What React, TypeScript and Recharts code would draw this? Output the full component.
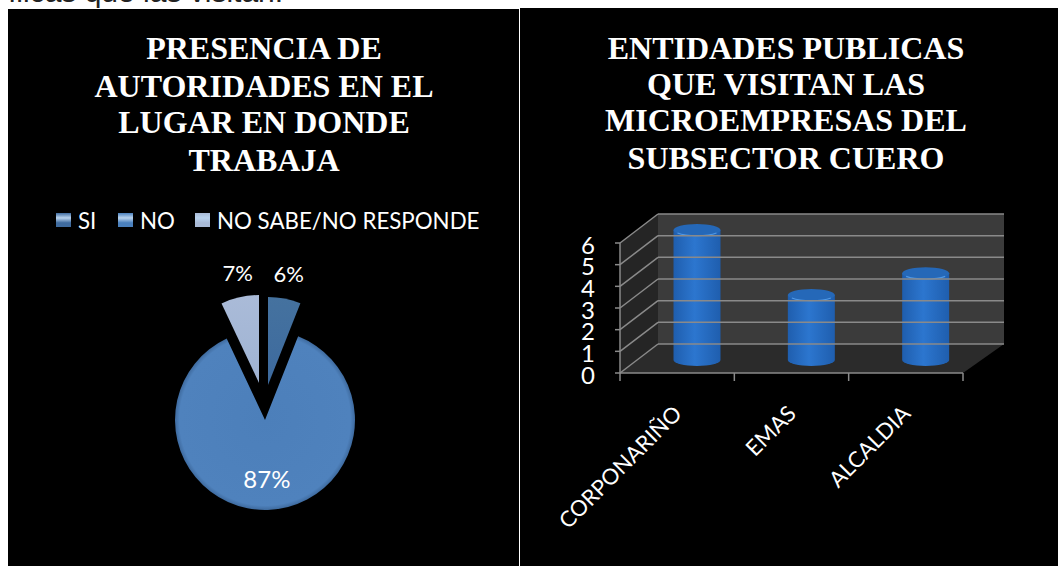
import React from "react";
import {
  PieChart, Pie, Cell, Legend, BarChart, Bar, XAxis, YAxis, ReferenceArea, ReferenceLine,
} from "recharts";

const pieCategories = ["SI", "NO", "NO SABE/NO RESPONDE"];
const pieValues = [6, 87, 7];
const barCategories = ["CORPONARIÑO", "EMAS", "ALCALDIA"];
const barValues = [6, 3, 4];
const yTicks = [0, 1, 2, 3, 4, 5, 6];
const leftTitle = ["PRESENCIA DE", "AUTORIDADES EN EL", "LUGAR EN DONDE", "TRABAJA"];
const rightTitle = ["ENTIDADES PUBLICAS", "QUE VISITAN LAS", "MICROEMPRESAS DEL", "SUBSECTOR CUERO"];
const caption = "ílicas que las visitan.";

const pieData = pieCategories.map((name, i) => ({ name, value: pieValues[i] }));
const barData = barCategories.map((name, i) => ({ name, value: barValues[i] }));

const SANS = "Lato, Carlito, sans-serif";
const SERIF = "'Liberation Serif', serif";
const sliceFills = ["url(#sliceSi)", "url(#sliceNo)", "url(#sliceNs)"];
const legendSwatches = ["#3f6b9f", "#4a80bd", "#a9bad6"];

// placement of each exploded slice, in chart coordinates
const explode = [
  { cx: 260, cy: 376, r: 88, labelR: 111, dx: 0, dy: -2, font: 22 },
  { cx: 257, cy: 411, r: 90, labelR: 59, dx: 0, dy: 0, font: 24 },
  { cx: 251, cy: 374, r: 88, labelR: 111, dx: 3, dy: -2, font: 22 },
];

const DEPTH_X = 38;
const DEPTH_Y = 29;
const RIGHT_EXTRA = 41;
const GRID = "#8a8a8a";

function sliceLabel(index: number) {
  return (p: any) => {
    if (p.index !== index) return null;
    const a = (p.midAngle * Math.PI) / 180;
    const e = explode[index];
    return (
      <text
        x={p.cx + e.labelR * Math.cos(a) + e.dx}
        y={p.cy - e.labelR * Math.sin(a) + e.dy}
        fill="#fff"
        fontFamily={SANS}
        fontSize={e.font}
        textAnchor="middle"
        dominantBaseline="central"
      >
        {`${p.value}%`}
      </text>
    );
  };
}

function PieLegend() {
  const iconX = [48, 110, 187];
  return (
    <div style={{ position: "relative", height: 30, width: 510 }}>
      {pieCategories.map((c, i) => (
        <div key={c} style={{ position: "absolute", left: iconX[i], top: 0, display: "flex", alignItems: "center", height: 30, whiteSpace: "nowrap" }}>
          <span
            style={{
              display: "inline-block", width: 15, height: 14, marginRight: 7,
              background: `linear-gradient(${legendSwatches[i]} 0%, #b9d3ee 35%, ${legendSwatches[i]} 70%)`,
            }}
          />
          <span style={{ color: "#fff", fontFamily: SANS, fontSize: 22.3 }}>{c}</span>
        </div>
      ))}
    </div>
  );
}

function Cylinder(props: any) {
  const { x, y, width, height } = props;
  const dx = 19.5;
  const dy = -13;
  const rx = width / 2;
  const ry = 6;
  const left = x + dx;
  const right = left + width;
  const top = y + dy;
  const bottom = top + height;
  return (
    <g style={{ filter: "blur(0.7px)" }}>
      <path
        d={`M${left},${top} L${left},${bottom} A${rx},${ry} 0 0 0 ${right},${bottom} L${right},${top} Z`}
        fill="url(#cylBody)"
      />
      <ellipse cx={left + rx} cy={top} rx={rx} ry={ry} fill="#2568b8" />
      <path d={`M${left + 4},${top + 3} A${rx},${ry} 0 0 0 ${right - 4},${top + 3}`} stroke="#4f98e6" strokeWidth={1.2} fill="none" />
    </g>
  );
}

function Walls(props: any) {
  const { x, y, width, height } = props;
  const b = y + height;
  const bx = x + DEPTH_X;
  const topBack = y - DEPTH_Y;
  const botBack = b - DEPTH_Y;
  const rightBack = x + width + RIGHT_EXTRA;
  return (
    <g>
      <polygon points={`${x},${y} ${bx},${topBack} ${bx},${botBack} ${x},${b}`} fill="#252525" />
      <rect x={bx} y={topBack} width={rightBack - bx} height={botBack - topBack} fill="#3b3b3b" />
      <polygon points={`${x},${b} ${bx},${botBack} ${rightBack},${botBack} ${x + width},${b}`} fill="#2b2b2b" />
    </g>
  );
}

function GridLine(props: any) {
  const { x1, x2, y1 } = props;
  const bx = x1 + DEPTH_X;
  const by = y1 - DEPTH_Y;
  return (
    <g stroke={GRID} strokeWidth={1.5} fill="none">
      <line x1={x1} y1={y1} x2={bx} y2={by} />
      <line x1={bx} y1={by} x2={x2 + RIGHT_EXTRA} y2={by} />
    </g>
  );
}

function CategoryTick(props: any) {
  const { x, y, payload, index } = props;
  const band = 343 / barCategories.length;
  const top = y - 8;
  return (
    <g>
      <line x1={x - band / 2} x2={x - band / 2} y1={top} y2={top + 8} stroke={GRID} strokeWidth={1.5} />
      {index === barCategories.length - 1 && (
        <line x1={x + band / 2} x2={x + band / 2} y1={top} y2={top + 8} stroke={GRID} strokeWidth={1.5} />
      )}
      <text
        transform={`translate(${x + 6},${top + 42}) rotate(-45)`}
        textAnchor="end"
        fill="#fff"
        fontFamily={SANS}
        fontSize={22}
      >
        {payload.value}
      </text>
    </g>
  );
}

function Title({ lines, left, width, tops }: { lines: string[]; left: number; width: number; tops: number[] }) {
  return (
    <>
      {lines.map((l, i) => (
        <div
          key={l}
          style={{
            position: "absolute", left, width, top: tops[i], textAlign: "center", color: "#fff",
            fontFamily: SERIF, fontWeight: 700, fontSize: 32, lineHeight: "34px", whiteSpace: "nowrap",
          }}
        >
          {l}
        </div>
      ))}
    </>
  );
}

export default function App() {
  return (
    <div style={{ position: "absolute", left: 0, top: 0, width: 1058, height: 566, background: "#fff", overflow: "hidden" }}>
      <div style={{ position: "absolute", left: 8, top: -23, fontFamily: "'Liberation Sans', sans-serif", fontSize: 30, lineHeight: "30px", color: "#222", whiteSpace: "nowrap" }}>
        {caption}
      </div>
      <div style={{ position: "absolute", left: 8, top: 9, width: 511, height: 557, background: "#000" }} />
      <div style={{ position: "absolute", left: 520, top: 8, width: 538, height: 558, background: "#000" }} />

      <div style={{ position: "absolute", left: 8, top: 9 }}>
        <PieChart width={510} height={557} margin={{ top: 0, right: 0, bottom: 0, left: 0 }}>
          <defs>
            <radialGradient id="sliceNo" gradientUnits="userSpaceOnUse" cx={257} cy={411} r={90}>
              <stop offset="0%" stopColor="#4c7fba" />
              <stop offset="95%" stopColor="#4f82bd" />
              <stop offset="100%" stopColor="#3e6a9e" />
            </radialGradient>
            <linearGradient id="sliceSi" x1="0" y1="0" x2="0" y2="1">
              <stop offset="0%" stopColor="#45729f" />
              <stop offset="100%" stopColor="#3d6a9e" />
            </linearGradient>
            <linearGradient id="sliceNs" x1="0" y1="0" x2="0" y2="1">
              <stop offset="0%" stopColor="#aabbd8" />
              <stop offset="100%" stopColor="#9fb3d3" />
            </linearGradient>
          </defs>
          <Legend content={<PieLegend />} layout="horizontal" verticalAlign="middle" wrapperStyle={{ top: 196, left: 0, width: 510 }} />
          {explode.map((e, k) => (
            <Pie
              key={k}
              data={pieData}
              dataKey="value"
              nameKey="name"
              cx={e.cx}
              cy={e.cy}
              outerRadius={e.r}
              innerRadius={0}
              startAngle={90}
              endAngle={-270}
              stroke="none"
              legendType="none"
              isAnimationActive={false}
              labelLine={false}
              label={sliceLabel(k)}
            >
              {pieData.map((d, i) => (
                <Cell key={d.name} fill={i === k ? sliceFills[i] : "none"} stroke="none" />
              ))}
            </Pie>
          ))}
        </PieChart>
      </div>

      <div style={{ position: "absolute", left: 520, top: 9 }}>
        <BarChart
          width={538}
          height={557}
          data={barData}
          margin={{ top: 234, right: 95, bottom: 0, left: 0 }}
          barSize={47}
        >
          <defs>
            <linearGradient id="cylBody" x1="0" y1="0" x2="1" y2="0">
              <stop offset="0%" stopColor="#1f5eae" />
              <stop offset="45%" stopColor="#2c76cf" />
              <stop offset="100%" stopColor="#1f5eae" />
            </linearGradient>
          </defs>
          <ReferenceArea x1={barCategories[0]} x2={barCategories[2]} y1={0} y2={6} shape={(p: any) => <Walls {...p} x={100} width={343} />} ifOverflow="visible" />
          {yTicks.map((t) => (
            <ReferenceLine key={t} y={t} ifOverflow="visible" shape={(p: any) => <GridLine {...p} />} />
          ))}
          <XAxis
            dataKey="name"
            stroke={GRID}
            strokeWidth={1.5}
            tickLine={false}
            interval={0}
            tick={<CategoryTick />}
            height={193}
          />
          <YAxis
            domain={[0, 6]}
            ticks={yTicks}
            width={100}
            stroke={GRID}
            strokeWidth={1.5}
            tickSize={5}
            tick={{ fill: "#fff", fontFamily: SANS, fontSize: 24, dy: 2 }}
            tickMargin={20}
            interval={0}
          />
          <Bar dataKey="value" shape={<Cylinder />} isAnimationActive={false} />
        </BarChart>
      </div>

      <Title lines={leftTitle} left={8} width={512} tops={[31, 69, 105, 143]} />
      <Title lines={rightTitle} left={520} width={532} tops={[31, 67, 103, 141]} />
    </div>
  );
}
